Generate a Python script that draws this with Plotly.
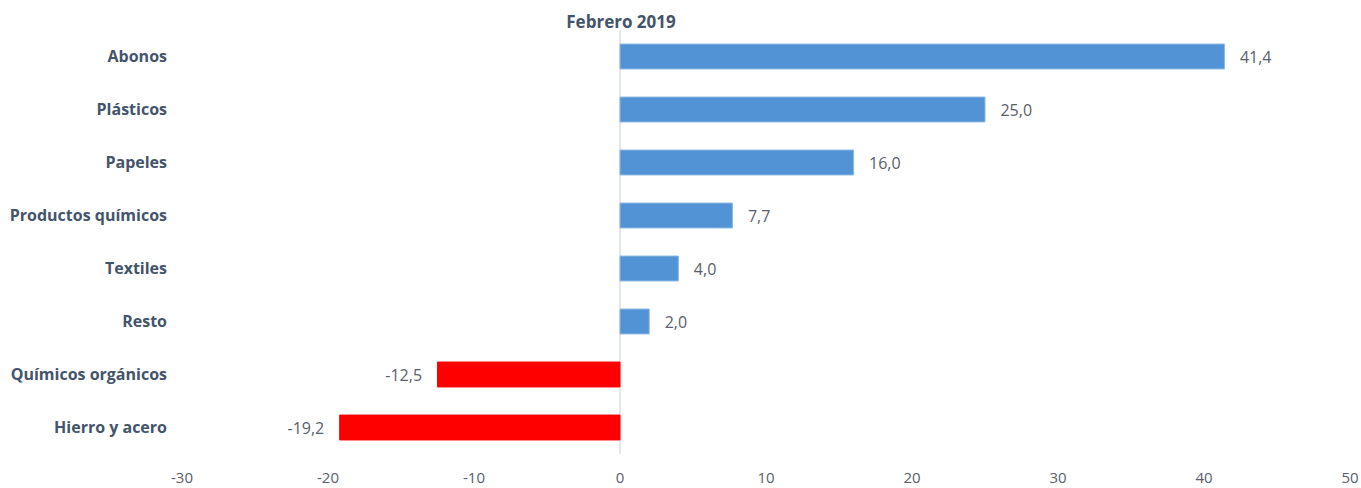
import plotly.graph_objects as go

categories = ["Abonos", "Plásticos", "Papeles", "Productos químicos", "Textiles",
              "Resto", "Químicos orgánicos", "Hierro y acero"]
values = [41.4, 25.0, 16.0, 7.7, 4.0, 2.0, -12.5, -19.2]
x_ticks = [-30, -20, -10, 0, 10, 20, 30, 40, 50]
x_tick_labels = ["-30", "-20", "-10", "0", "10", "20", "30", "40", "50"]
title_text = "Febrero 2019"

colors = ["#5293D6" if v >= 0 else "#FF0000" for v in values]
line_colors = ["#8DB8E6" if v >= 0 else "#FF0000" for v in values]
templates = ["   %{x:.1f}" if v >= 0 else "%{x:.1f}   " for v in values]

fig = go.Figure(go.Bar(
    y=categories, x=values, orientation="h",
    marker=dict(color=colors, line=dict(color=line_colors, width=1)),
    width=0.47,
    texttemplate=templates, textposition="outside", cliponaxis=False,
    textfont=dict(family="Open Sans", size=16, color="#59606B"),
))

fig.add_shape(type="line", xref="x", yref="paper", x0=0, x1=0, y0=0, y1=1,
              line=dict(color="#D9DEE8", width=1.5), layer="below")

fig.update_layout(
    width=1361, height=488,
    margin=dict(l=182, r=11, t=30, b=34),
    paper_bgcolor="white", plot_bgcolor="white",
    separators=",.",
    showlegend=False,
    title=dict(text="<b>" + title_text + "</b>", x=621/1361, xanchor="center",
               y=1 - 22/488, yanchor="middle",
               font=dict(family="Open Sans", size=17, color="#44546A")),
    xaxis=dict(range=[-30, 50], tickvals=x_ticks, ticktext=x_tick_labels,
               showgrid=False, zeroline=False, showline=False, ticks="",
               ticklabelstandoff=13, automargin=False,
               tickfont=dict(family="Open Sans", size=15, color="#59606B")),
    yaxis=dict(categoryorder="array", categoryarray=categories[::-1],
               showgrid=False, zeroline=False, showline=False, ticks="",
               ticklabelstandoff=14, automargin=False,
               tickfont=dict(family="Open Sans", size=16, color="#44546A", weight="bold")),
    font=dict(family="Open Sans"),
)

fig.write_html("out.html", config={"displayModeBar": False},
               post_script="document.body.style.margin='0';document.body.style.overflow='hidden';")
